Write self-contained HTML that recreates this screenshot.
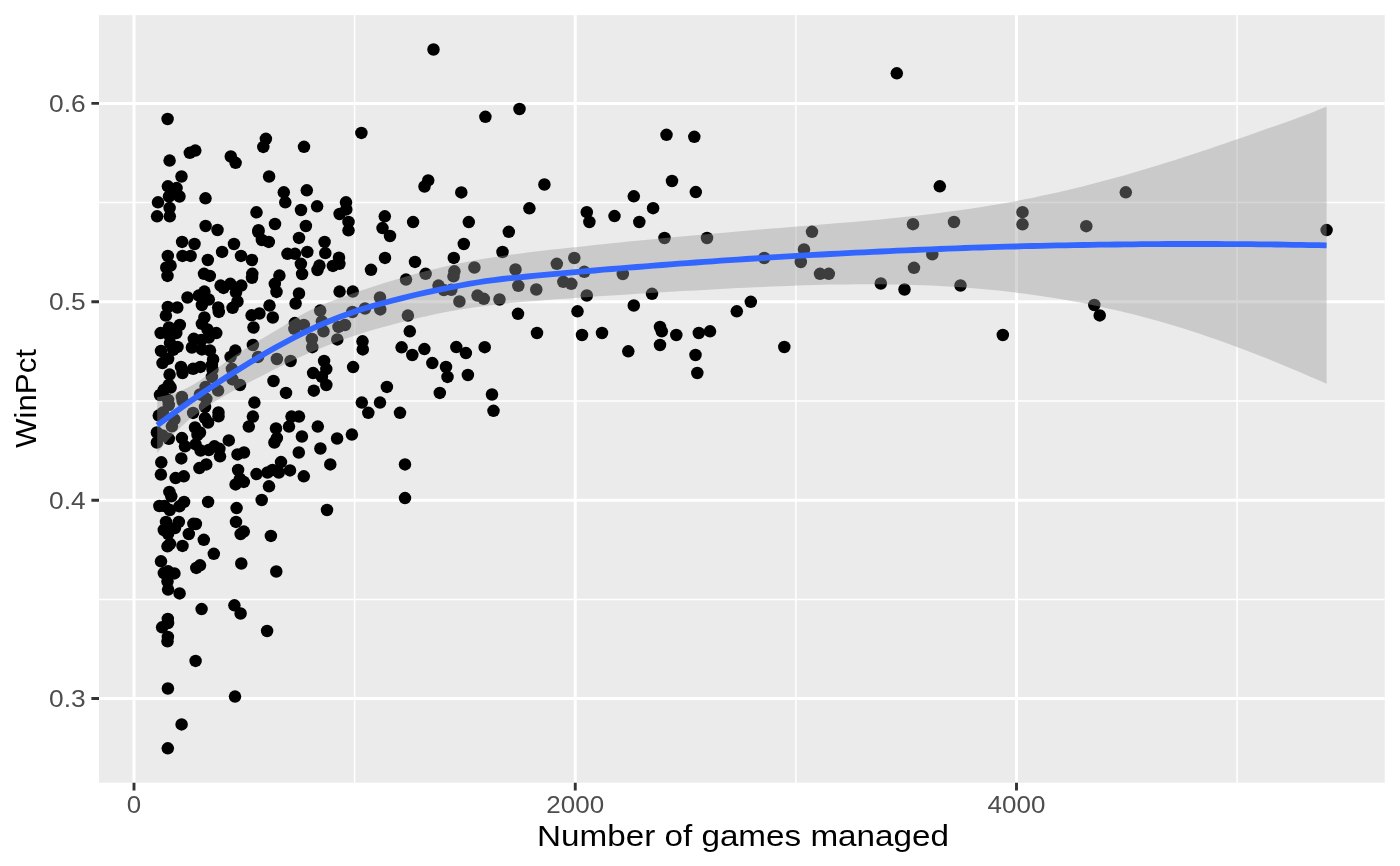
<!DOCTYPE html>
<html><head><meta charset="utf-8"><title>plot</title>
<style>
html,body{margin:0;padding:0;background:#fff;}
svg{display:block;font-family:"Liberation Sans",sans-serif;}
svg{will-change:transform;}
</style></head><body>
<svg width="1400" height="866" viewBox="0 0 1400 866">
<rect x="0" y="0" width="1400" height="866" fill="#ffffff"/>
<rect x="99" y="15.1" width="1285.75" height="767.6" fill="#EBEBEB"/>
<g stroke="#ffffff" stroke-width="1.5" fill="none">
<path d="M354.6 15.1V782.7M795.9 15.1V782.7M1237.1 15.1V782.7"/>
<path d="M99 202.6H1384.75M99 401H1384.75M99 599.4H1384.75"/>
</g>
<g stroke="#ffffff" stroke-width="3" fill="none">
<path d="M134 15.1V782.7M575.25 15.1V782.7M1016.5 15.1V782.7"/>
<path d="M99 103.4H1384.75M99 301.8H1384.75M99 500.2H1384.75M99 698.55H1384.75"/>
</g>
<g fill="#000000"><circle cx="167.6" cy="119" r="6.25"/><circle cx="265.9" cy="138.8" r="6.25"/><circle cx="263.3" cy="146.9" r="6.25"/><circle cx="304" cy="146.8" r="6.25"/><circle cx="195.3" cy="150.6" r="6.25"/><circle cx="189.8" cy="152.8" r="6.25"/><circle cx="230.8" cy="156.5" r="6.25"/><circle cx="235.6" cy="162.8" r="6.25"/><circle cx="169.6" cy="160.6" r="6.25"/><circle cx="181.5" cy="176.5" r="6.25"/><circle cx="269.1" cy="176.5" r="6.25"/><circle cx="167.9" cy="186.3" r="6.25"/><circle cx="176.6" cy="188.1" r="6.25"/><circle cx="169" cy="196.5" r="6.25"/><circle cx="179.5" cy="196.5" r="6.25"/><circle cx="205.5" cy="198.3" r="6.25"/><circle cx="283.8" cy="192.3" r="6.25"/><circle cx="306.8" cy="190.3" r="6.25"/><circle cx="285.3" cy="202.3" r="6.25"/><circle cx="158" cy="202.3" r="6.25"/><circle cx="169.6" cy="208" r="6.25"/><circle cx="256.5" cy="212.3" r="6.25"/><circle cx="301" cy="210" r="6.25"/><circle cx="157.1" cy="216.3" r="6.25"/><circle cx="169.8" cy="216.3" r="6.25"/><circle cx="275" cy="224" r="6.25"/><circle cx="305.9" cy="226" r="6.25"/><circle cx="205.6" cy="226" r="6.25"/><circle cx="217.5" cy="230" r="6.25"/><circle cx="258.5" cy="230.2" r="6.25"/><circle cx="258.3" cy="232" r="6.25"/><circle cx="261.9" cy="240" r="6.25"/><circle cx="268.8" cy="241.9" r="6.25"/><circle cx="299" cy="237.9" r="6.25"/><circle cx="182.1" cy="241.9" r="6.25"/><circle cx="194.5" cy="244" r="6.25"/><circle cx="234" cy="244" r="6.25"/><circle cx="222.1" cy="251.9" r="6.25"/><circle cx="241" cy="255.9" r="6.25"/><circle cx="251.9" cy="260" r="6.25"/><circle cx="167.8" cy="255.9" r="6.25"/><circle cx="182.5" cy="255.9" r="6.25"/><circle cx="190.6" cy="255.9" r="6.25"/><circle cx="207.8" cy="260" r="6.25"/><circle cx="287.5" cy="253.8" r="6.25"/><circle cx="295" cy="253.8" r="6.25"/><circle cx="307.3" cy="251.9" r="6.25"/><circle cx="300.9" cy="263.8" r="6.25"/><circle cx="302.1" cy="274" r="6.25"/><circle cx="170.6" cy="265.6" r="6.25"/><circle cx="166.3" cy="267.5" r="6.25"/><circle cx="167.5" cy="275.9" r="6.25"/><circle cx="204" cy="273.8" r="6.25"/><circle cx="209.8" cy="275.9" r="6.25"/><circle cx="252.3" cy="273.8" r="6.25"/><circle cx="252" cy="277.8" r="6.25"/><circle cx="279.4" cy="275.6" r="6.25"/><circle cx="274.8" cy="283.8" r="6.25"/><circle cx="276.5" cy="291.9" r="6.25"/><circle cx="299" cy="293.5" r="6.25"/><circle cx="295.6" cy="303.5" r="6.25"/><circle cx="269.5" cy="305.6" r="6.25"/><circle cx="220.6" cy="285.6" r="6.25"/><circle cx="223.5" cy="287.9" r="6.25"/><circle cx="230.3" cy="283.8" r="6.25"/><circle cx="241.3" cy="285.6" r="6.25"/><circle cx="236" cy="292.3" r="6.25"/><circle cx="237.5" cy="301.5" r="6.25"/><circle cx="232.6" cy="307.8" r="6.25"/><circle cx="218.2" cy="307.5" r="6.25"/><circle cx="187.5" cy="297.5" r="6.25"/><circle cx="204.4" cy="291.6" r="6.25"/><circle cx="198.8" cy="295.6" r="6.25"/><circle cx="208.8" cy="299.6" r="6.25"/><circle cx="201.9" cy="305" r="6.25"/><circle cx="167.8" cy="306.9" r="6.25"/><circle cx="177.3" cy="307.5" r="6.25"/><circle cx="218.8" cy="311.9" r="6.25"/><circle cx="165.9" cy="315.6" r="6.25"/><circle cx="204.4" cy="317.5" r="6.25"/><circle cx="201.9" cy="323.8" r="6.25"/><circle cx="207.5" cy="329.4" r="6.25"/><circle cx="216.3" cy="333.1" r="6.25"/><circle cx="208.8" cy="337.5" r="6.25"/><circle cx="179.8" cy="325" r="6.25"/><circle cx="169" cy="327.5" r="6.25"/><circle cx="160.6" cy="333.1" r="6.25"/><circle cx="176.3" cy="333.1" r="6.25"/><circle cx="170" cy="336.3" r="6.25"/><circle cx="170" cy="343.1" r="6.25"/><circle cx="177.5" cy="346.9" r="6.25"/><circle cx="161" cy="350.9" r="6.25"/><circle cx="173.2" cy="349.8" r="6.25"/><circle cx="168.1" cy="358.8" r="6.25"/><circle cx="162.5" cy="363.1" r="6.25"/><circle cx="193.8" cy="338.8" r="6.25"/><circle cx="201.3" cy="340" r="6.25"/><circle cx="191.9" cy="347.5" r="6.25"/><circle cx="201.9" cy="349.4" r="6.25"/><circle cx="210" cy="350.6" r="6.25"/><circle cx="213.1" cy="359.4" r="6.25"/><circle cx="211.9" cy="365" r="6.25"/><circle cx="212.5" cy="369.4" r="6.25"/><circle cx="211.9" cy="376.9" r="6.25"/><circle cx="181" cy="366.9" r="6.25"/><circle cx="182.5" cy="373.1" r="6.25"/><circle cx="193.1" cy="368.8" r="6.25"/><circle cx="200.3" cy="366.9" r="6.25"/><circle cx="169.6" cy="374.6" r="6.25"/><circle cx="168.8" cy="385" r="6.25"/><circle cx="170.6" cy="387.5" r="6.25"/><circle cx="163.8" cy="390" r="6.25"/><circle cx="160" cy="395" r="6.25"/><circle cx="168.1" cy="400" r="6.25"/><circle cx="181.9" cy="396.9" r="6.25"/><circle cx="205.6" cy="386.9" r="6.25"/><circle cx="200" cy="394.4" r="6.25"/><circle cx="218.1" cy="390.6" r="6.25"/><circle cx="206.3" cy="398.8" r="6.25"/><circle cx="231.9" cy="368.8" r="6.25"/><circle cx="232.5" cy="379.4" r="6.25"/><circle cx="240" cy="385" r="6.25"/><circle cx="235.3" cy="350.6" r="6.25"/><circle cx="230.6" cy="356.9" r="6.25"/><circle cx="251.6" cy="315.3" r="6.25"/><circle cx="259.4" cy="313.5" r="6.25"/><circle cx="272.8" cy="317.5" r="6.25"/><circle cx="253.5" cy="327.5" r="6.25"/><circle cx="252.9" cy="345" r="6.25"/><circle cx="258.1" cy="356.9" r="6.25"/><circle cx="276.9" cy="359" r="6.25"/><circle cx="290.6" cy="361" r="6.25"/><circle cx="294.8" cy="323.1" r="6.25"/><circle cx="303.8" cy="325" r="6.25"/><circle cx="294.4" cy="328.8" r="6.25"/><circle cx="311.9" cy="339" r="6.25"/><circle cx="312.3" cy="347.2" r="6.25"/><circle cx="273.5" cy="381" r="6.25"/><circle cx="286" cy="392.9" r="6.25"/><circle cx="313.1" cy="373.1" r="6.25"/><circle cx="313.8" cy="390.7" r="6.25"/><circle cx="254.4" cy="402.6" r="6.25"/><circle cx="158.8" cy="415.6" r="6.25"/><circle cx="168.8" cy="405" r="6.25"/><circle cx="162.9" cy="412.6" r="6.25"/><circle cx="193.1" cy="412.9" r="6.25"/><circle cx="205" cy="406.9" r="6.25"/><circle cx="218.5" cy="412.5" r="6.25"/><circle cx="218.5" cy="416.3" r="6.25"/><circle cx="205" cy="418.1" r="6.25"/><circle cx="208.1" cy="422.5" r="6.25"/><circle cx="174.4" cy="419.4" r="6.25"/><circle cx="171.9" cy="426.3" r="6.25"/><circle cx="195" cy="427.5" r="6.25"/><circle cx="200" cy="432.5" r="6.25"/><circle cx="156.9" cy="432.5" r="6.25"/><circle cx="168.8" cy="438.8" r="6.25"/><circle cx="156.9" cy="442.5" r="6.25"/><circle cx="181.9" cy="438.1" r="6.25"/><circle cx="185" cy="446.3" r="6.25"/><circle cx="195.6" cy="444.4" r="6.25"/><circle cx="200.6" cy="450.6" r="6.25"/><circle cx="208.8" cy="450" r="6.25"/><circle cx="214.4" cy="446.3" r="6.25"/><circle cx="219.4" cy="448.8" r="6.25"/><circle cx="220" cy="456.3" r="6.25"/><circle cx="228.8" cy="440.4" r="6.25"/><circle cx="252.9" cy="416.6" r="6.25"/><circle cx="248.8" cy="426.6" r="6.25"/><circle cx="291.5" cy="416.6" r="6.25"/><circle cx="299" cy="416.6" r="6.25"/><circle cx="289" cy="426.6" r="6.25"/><circle cx="276" cy="428.4" r="6.25"/><circle cx="276.9" cy="438.1" r="6.25"/><circle cx="274.4" cy="442.5" r="6.25"/><circle cx="301.9" cy="436.5" r="6.25"/><circle cx="298.8" cy="452.5" r="6.25"/><circle cx="237.5" cy="454.4" r="6.25"/><circle cx="244" cy="452.5" r="6.25"/><circle cx="161.3" cy="462.3" r="6.25"/><circle cx="181.3" cy="458.4" r="6.25"/><circle cx="199.4" cy="468.1" r="6.25"/><circle cx="206.3" cy="464.4" r="6.25"/><circle cx="160.9" cy="474.6" r="6.25"/><circle cx="175.6" cy="478.1" r="6.25"/><circle cx="183.8" cy="476.3" r="6.25"/><circle cx="238.1" cy="470" r="6.25"/><circle cx="240" cy="478.8" r="6.25"/><circle cx="235.6" cy="484.4" r="6.25"/><circle cx="243.8" cy="481.9" r="6.25"/><circle cx="256.5" cy="474.1" r="6.25"/><circle cx="267.5" cy="472.5" r="6.25"/><circle cx="272.5" cy="470" r="6.25"/><circle cx="278.8" cy="472.5" r="6.25"/><circle cx="281" cy="462.1" r="6.25"/><circle cx="290" cy="470.4" r="6.25"/><circle cx="303.8" cy="476.3" r="6.25"/><circle cx="269" cy="486.3" r="6.25"/><circle cx="261.7" cy="500" r="6.25"/><circle cx="169.4" cy="491.9" r="6.25"/><circle cx="171.3" cy="496.3" r="6.25"/><circle cx="184.1" cy="501.9" r="6.25"/><circle cx="208.1" cy="501.9" r="6.25"/><circle cx="159.4" cy="506" r="6.25"/><circle cx="164.4" cy="506" r="6.25"/><circle cx="169.8" cy="510" r="6.25"/><circle cx="179.4" cy="506.3" r="6.25"/><circle cx="236.6" cy="508.1" r="6.25"/><circle cx="236" cy="521.9" r="6.25"/><circle cx="166" cy="521.9" r="6.25"/><circle cx="178.8" cy="521.9" r="6.25"/><circle cx="193.4" cy="523.8" r="6.25"/><circle cx="195.9" cy="524" r="6.25"/><circle cx="163.8" cy="530" r="6.25"/><circle cx="175" cy="528.1" r="6.25"/><circle cx="168.1" cy="533.8" r="6.25"/><circle cx="188.8" cy="534" r="6.25"/><circle cx="203.8" cy="539.8" r="6.25"/><circle cx="243.8" cy="531.6" r="6.25"/><circle cx="240.6" cy="534.1" r="6.25"/><circle cx="270.9" cy="535.9" r="6.25"/><circle cx="170" cy="543.8" r="6.25"/><circle cx="167.5" cy="546.3" r="6.25"/><circle cx="182.5" cy="545.9" r="6.25"/><circle cx="213.8" cy="553.8" r="6.25"/><circle cx="161" cy="561.3" r="6.25"/><circle cx="200" cy="565.3" r="6.25"/><circle cx="196.3" cy="567.9" r="6.25"/><circle cx="241.3" cy="563.5" r="6.25"/><circle cx="276.3" cy="571.5" r="6.25"/><circle cx="163.8" cy="573.1" r="6.25"/><circle cx="168.1" cy="571.3" r="6.25"/><circle cx="174.4" cy="573.4" r="6.25"/><circle cx="167.5" cy="581.3" r="6.25"/><circle cx="168.1" cy="589.6" r="6.25"/><circle cx="179.6" cy="593.4" r="6.25"/><circle cx="234.4" cy="605.3" r="6.25"/><circle cx="240.6" cy="613.5" r="6.25"/><circle cx="201.6" cy="609.1" r="6.25"/><circle cx="167.8" cy="619" r="6.25"/><circle cx="168.1" cy="623.1" r="6.25"/><circle cx="162.1" cy="627.3" r="6.25"/><circle cx="167.9" cy="636.9" r="6.25"/><circle cx="167.5" cy="641.3" r="6.25"/><circle cx="267.1" cy="631" r="6.25"/><circle cx="195.6" cy="660.9" r="6.25"/><circle cx="167.9" cy="688.5" r="6.25"/><circle cx="235" cy="696.6" r="6.25"/><circle cx="181.6" cy="724.4" r="6.25"/><circle cx="167.8" cy="748.3" r="6.25"/><circle cx="361.4" cy="132.9" r="6.25"/><circle cx="485.4" cy="116.8" r="6.25"/><circle cx="428.2" cy="180.4" r="6.25"/><circle cx="424.5" cy="186.5" r="6.25"/><circle cx="461.3" cy="192.4" r="6.25"/><circle cx="317.1" cy="206.3" r="6.25"/><circle cx="346" cy="202.3" r="6.25"/><circle cx="346.3" cy="209.4" r="6.25"/><circle cx="339.6" cy="214" r="6.25"/><circle cx="348.5" cy="221.9" r="6.25"/><circle cx="348.5" cy="230.3" r="6.25"/><circle cx="324.6" cy="241.9" r="6.25"/><circle cx="325.3" cy="253.1" r="6.25"/><circle cx="339" cy="257.7" r="6.25"/><circle cx="339.4" cy="263.8" r="6.25"/><circle cx="332.9" cy="265.9" r="6.25"/><circle cx="319.4" cy="265.6" r="6.25"/><circle cx="317.5" cy="270" r="6.25"/><circle cx="384.8" cy="216.3" r="6.25"/><circle cx="382.5" cy="228.1" r="6.25"/><circle cx="390" cy="236" r="6.25"/><circle cx="413.1" cy="222.1" r="6.25"/><circle cx="468.8" cy="222.1" r="6.25"/><circle cx="463.8" cy="244" r="6.25"/><circle cx="453.8" cy="257.9" r="6.25"/><circle cx="385" cy="257.9" r="6.25"/><circle cx="415" cy="261.9" r="6.25"/><circle cx="371" cy="269.8" r="6.25"/><circle cx="425.6" cy="273.8" r="6.25"/><circle cx="406" cy="279.6" r="6.25"/><circle cx="454.4" cy="271.3" r="6.25"/><circle cx="453.5" cy="276.3" r="6.25"/><circle cx="474.4" cy="267.5" r="6.25"/><circle cx="339.6" cy="291.6" r="6.25"/><circle cx="352.8" cy="291.6" r="6.25"/><circle cx="380" cy="297.5" r="6.25"/><circle cx="438.5" cy="285.6" r="6.25"/><circle cx="443.8" cy="290" r="6.25"/><circle cx="451.3" cy="289.8" r="6.25"/><circle cx="459.4" cy="301.5" r="6.25"/><circle cx="477.5" cy="295.6" r="6.25"/><circle cx="483.8" cy="298.8" r="6.25"/><circle cx="365" cy="308.5" r="6.25"/><circle cx="320.2" cy="310.6" r="6.25"/><circle cx="352.4" cy="312" r="6.25"/><circle cx="321.9" cy="321.3" r="6.25"/><circle cx="323.5" cy="331.3" r="6.25"/><circle cx="337.3" cy="339.4" r="6.25"/><circle cx="338.5" cy="326.9" r="6.25"/><circle cx="345" cy="325" r="6.25"/><circle cx="380.3" cy="309.4" r="6.25"/><circle cx="407.9" cy="315.6" r="6.25"/><circle cx="409.8" cy="331.3" r="6.25"/><circle cx="362.5" cy="341.3" r="6.25"/><circle cx="362.8" cy="349.4" r="6.25"/><circle cx="401.6" cy="347.3" r="6.25"/><circle cx="412.3" cy="355" r="6.25"/><circle cx="424.4" cy="349.1" r="6.25"/><circle cx="432.3" cy="363.1" r="6.25"/><circle cx="446" cy="366.9" r="6.25"/><circle cx="447.5" cy="376.9" r="6.25"/><circle cx="456.3" cy="347.1" r="6.25"/><circle cx="465.9" cy="353.1" r="6.25"/><circle cx="484.7" cy="347.2" r="6.25"/><circle cx="467.9" cy="375" r="6.25"/><circle cx="439.8" cy="392.9" r="6.25"/><circle cx="386.9" cy="386.9" r="6.25"/><circle cx="353.1" cy="367.1" r="6.25"/><circle cx="324.1" cy="361" r="6.25"/><circle cx="326.3" cy="369.1" r="6.25"/><circle cx="321.9" cy="376.9" r="6.25"/><circle cx="326.3" cy="385" r="6.25"/><circle cx="361.8" cy="402.6" r="6.25"/><circle cx="380" cy="402.6" r="6.25"/><circle cx="400" cy="412.8" r="6.25"/><circle cx="368.3" cy="412.8" r="6.25"/><circle cx="317.8" cy="426.6" r="6.25"/><circle cx="337.1" cy="438.5" r="6.25"/><circle cx="351.9" cy="434.6" r="6.25"/><circle cx="320.4" cy="448.5" r="6.25"/><circle cx="330.3" cy="464.4" r="6.25"/><circle cx="405" cy="464.4" r="6.25"/><circle cx="405" cy="498.1" r="6.25"/><circle cx="327" cy="510" r="6.25"/><circle cx="433.5" cy="49.5" r="6.25"/><circle cx="519.5" cy="109" r="6.25"/><circle cx="544.4" cy="184.5" r="6.25"/><circle cx="529.4" cy="208.3" r="6.25"/><circle cx="633.8" cy="196.3" r="6.25"/><circle cx="653.1" cy="208.2" r="6.25"/><circle cx="586.8" cy="212.2" r="6.25"/><circle cx="589.4" cy="222" r="6.25"/><circle cx="614.5" cy="216.1" r="6.25"/><circle cx="639.3" cy="222" r="6.25"/><circle cx="508.8" cy="231.8" r="6.25"/><circle cx="502.5" cy="252" r="6.25"/><circle cx="672" cy="181" r="6.25"/><circle cx="695.8" cy="192.1" r="6.25"/><circle cx="664.5" cy="238" r="6.25"/><circle cx="707" cy="238" r="6.25"/><circle cx="812" cy="231.8" r="6.25"/><circle cx="804" cy="249.5" r="6.25"/><circle cx="800.8" cy="262" r="6.25"/><circle cx="764.3" cy="258" r="6.25"/><circle cx="820" cy="273.8" r="6.25"/><circle cx="828.8" cy="273.8" r="6.25"/><circle cx="515.5" cy="269.5" r="6.25"/><circle cx="556.8" cy="263.8" r="6.25"/><circle cx="574.3" cy="258" r="6.25"/><circle cx="584.3" cy="271.8" r="6.25"/><circle cx="563.3" cy="281.8" r="6.25"/><circle cx="571.3" cy="283.8" r="6.25"/><circle cx="518.3" cy="285.8" r="6.25"/><circle cx="536.3" cy="289.5" r="6.25"/><circle cx="622.8" cy="274" r="6.25"/><circle cx="586.8" cy="295.5" r="6.25"/><circle cx="652" cy="293.8" r="6.25"/><circle cx="499.5" cy="299.5" r="6.25"/><circle cx="518" cy="313.8" r="6.25"/><circle cx="577.5" cy="311.3" r="6.25"/><circle cx="633.8" cy="305.5" r="6.25"/><circle cx="750.8" cy="301.8" r="6.25"/><circle cx="736.8" cy="311.3" r="6.25"/><circle cx="537" cy="333" r="6.25"/><circle cx="582" cy="335" r="6.25"/><circle cx="602" cy="333" r="6.25"/><circle cx="660" cy="327" r="6.25"/><circle cx="661.8" cy="331.3" r="6.25"/><circle cx="676.3" cy="335" r="6.25"/><circle cx="698.8" cy="333" r="6.25"/><circle cx="710" cy="331.3" r="6.25"/><circle cx="628.3" cy="351.3" r="6.25"/><circle cx="660" cy="345" r="6.25"/><circle cx="695.5" cy="355" r="6.25"/><circle cx="697.3" cy="373" r="6.25"/><circle cx="784.3" cy="347" r="6.25"/><circle cx="492" cy="394.5" r="6.25"/><circle cx="493.5" cy="410.8" r="6.25"/><circle cx="896.8" cy="73.3" r="6.25"/><circle cx="666.5" cy="134.8" r="6.25"/><circle cx="694.3" cy="136.8" r="6.25"/><circle cx="939.8" cy="186.3" r="6.25"/><circle cx="913" cy="224.2" r="6.25"/><circle cx="954" cy="222" r="6.25"/><circle cx="1022.5" cy="212.2" r="6.25"/><circle cx="1022.5" cy="224.3" r="6.25"/><circle cx="1086.3" cy="226.2" r="6.25"/><circle cx="1125.8" cy="192.3" r="6.25"/><circle cx="932.3" cy="254.3" r="6.25"/><circle cx="914" cy="267.8" r="6.25"/><circle cx="880.8" cy="283.5" r="6.25"/><circle cx="904.5" cy="289.5" r="6.25"/><circle cx="960.5" cy="285.5" r="6.25"/><circle cx="1094.3" cy="305" r="6.25"/><circle cx="1099.7" cy="315.4" r="6.25"/><circle cx="1002.8" cy="335" r="6.25"/><circle cx="1326.6" cy="230.1" r="6.25"/><circle cx="197.5" cy="435" r="6.25"/><circle cx="182.6" cy="401.1" r="6.25"/><circle cx="162.5" cy="435.5" r="6.25"/></g>
<path d="M157.2 397.3 L165.6 395.6 L174.0 393.4 L182.4 390.3 L190.9 386.1 L199.3 380.9 L207.7 375.1 L216.1 369.1 L224.5 363.1 L232.9 357.1 L241.3 351.4 L249.7 346.1 L258.2 341.1 L266.6 336.1 L275.0 331.1 L283.4 325.9 L291.8 320.5 L300.2 315.4 L308.6 311.0 L317.0 307.0 L325.5 303.5 L333.9 300.3 L342.3 297.2 L350.7 294.2 L359.1 291.3 L367.5 288.5 L375.9 285.7 L384.3 283.0 L392.8 280.4 L401.2 277.9 L409.6 275.5 L418.0 273.2 L426.4 271.0 L434.8 268.9 L443.2 266.9 L451.7 265.0 L460.1 263.2 L468.5 261.6 L476.9 260.1 L485.3 258.6 L493.7 257.3 L502.1 256.0 L510.5 254.8 L519.0 253.7 L527.4 252.6 L535.8 251.6 L544.2 250.6 L552.6 249.6 L561.0 248.7 L569.4 247.8 L577.8 246.9 L586.3 246.0 L594.7 245.1 L603.1 244.2 L611.5 243.3 L619.9 242.5 L628.3 241.6 L636.7 240.8 L645.2 240.0 L653.6 239.2 L662.0 238.3 L670.4 237.5 L678.8 236.7 L687.2 236.0 L695.6 235.2 L704.0 234.4 L712.5 233.7 L720.9 232.9 L729.3 232.2 L737.7 231.4 L746.1 230.7 L754.5 230.0 L762.9 229.3 L771.3 228.6 L779.8 227.9 L788.2 227.2 L796.6 226.6 L805.0 225.9 L813.4 225.2 L821.8 224.5 L830.2 223.8 L838.6 223.1 L847.1 222.4 L855.5 221.7 L863.9 220.9 L872.3 220.2 L880.7 219.4 L889.1 218.6 L897.5 217.7 L906.0 216.8 L914.4 215.9 L922.8 215.0 L931.2 214.0 L939.6 212.9 L948.0 211.8 L956.4 210.7 L964.8 209.5 L973.3 208.3 L981.7 207.0 L990.1 205.6 L998.5 204.2 L1006.9 202.7 L1015.3 201.2 L1023.7 199.5 L1032.1 197.9 L1040.6 196.1 L1049.0 194.3 L1057.4 192.4 L1065.8 190.5 L1074.2 188.5 L1082.6 186.4 L1091.0 184.3 L1099.5 182.1 L1107.9 179.8 L1116.3 177.5 L1124.7 175.2 L1133.1 172.8 L1141.5 170.3 L1149.9 167.8 L1158.3 165.3 L1166.8 162.6 L1175.2 160.0 L1183.6 157.3 L1192.0 154.5 L1200.4 151.7 L1208.8 148.9 L1217.2 146.1 L1225.6 143.2 L1234.1 140.3 L1242.5 137.4 L1250.9 134.5 L1259.3 131.5 L1267.7 128.6 L1276.1 125.7 L1284.5 122.7 L1292.9 119.7 L1301.4 116.6 L1309.8 113.4 L1318.2 110.0 L1326.6 106.5 L1326.6 383.7 L1318.2 380.0 L1309.8 376.4 L1301.4 372.7 L1292.9 369.2 L1284.5 365.7 L1276.1 362.2 L1267.7 358.8 L1259.3 355.5 L1250.9 352.2 L1242.5 349.0 L1234.1 345.9 L1225.6 342.8 L1217.2 339.8 L1208.8 336.9 L1200.4 334.0 L1192.0 331.2 L1183.6 328.6 L1175.2 326.0 L1166.8 323.5 L1158.3 321.0 L1149.9 318.7 L1141.5 316.5 L1133.1 314.3 L1124.7 312.2 L1116.3 310.3 L1107.9 308.4 L1099.5 306.5 L1091.0 304.8 L1082.6 303.1 L1074.2 301.5 L1065.8 300.0 L1057.4 298.6 L1049.0 297.2 L1040.6 296.0 L1032.1 294.8 L1023.7 293.6 L1015.3 292.6 L1006.9 291.6 L998.5 290.6 L990.1 289.8 L981.7 289.0 L973.3 288.3 L964.8 287.6 L956.4 287.0 L948.0 286.5 L939.6 286.0 L931.2 285.6 L922.8 285.2 L914.4 284.9 L906.0 284.7 L897.5 284.5 L889.1 284.4 L880.7 284.3 L872.3 284.2 L863.9 284.2 L855.5 284.3 L847.1 284.4 L838.6 284.5 L830.2 284.6 L821.8 284.8 L813.4 285.1 L805.0 285.3 L796.6 285.6 L788.2 285.9 L779.8 286.2 L771.3 286.6 L762.9 286.9 L754.5 287.3 L746.1 287.7 L737.7 288.1 L729.3 288.6 L720.9 289.0 L712.5 289.4 L704.0 289.9 L695.6 290.4 L687.2 290.8 L678.8 291.3 L670.4 291.8 L662.0 292.3 L653.6 292.8 L645.2 293.3 L636.7 293.8 L628.3 294.4 L619.9 294.9 L611.5 295.4 L603.1 296.0 L594.7 296.6 L586.3 297.2 L577.8 297.8 L569.4 298.4 L561.0 299.0 L552.6 299.6 L544.2 300.3 L535.8 300.9 L527.4 301.6 L519.0 302.3 L510.5 303.1 L502.1 304.0 L493.7 304.9 L485.3 305.9 L476.9 307.0 L468.5 308.2 L460.1 309.5 L451.7 311.0 L443.2 312.6 L434.8 314.3 L426.4 316.2 L418.0 318.1 L409.6 320.2 L401.2 322.3 L392.8 324.5 L384.3 326.7 L375.9 329.1 L367.5 331.6 L359.1 334.2 L350.7 336.9 L342.3 339.8 L333.9 342.9 L325.5 346.2 L317.0 349.7 L308.6 353.3 L300.2 357.1 L291.8 361.0 L283.4 365.0 L275.0 369.1 L266.6 373.4 L258.2 377.7 L249.7 382.1 L241.3 386.6 L232.9 391.1 L224.5 395.8 L216.1 400.7 L207.7 406.0 L199.3 411.9 L190.9 418.3 L182.4 425.5 L174.0 433.6 L165.6 442.7 L157.2 453.0 Z" fill="#999999" fill-opacity="0.4"/>
<path d="M157.3 425.3 L165.7 419.0 L174.1 412.8 L182.5 406.8 L190.9 400.8 L199.4 395.0 L207.8 389.4 L216.2 383.8 L224.6 378.3 L233.0 373.0 L241.4 367.7 L249.8 362.6 L258.2 357.5 L266.7 352.6 L275.1 347.8 L283.5 343.2 L291.9 338.7 L300.3 334.4 L308.7 330.3 L317.1 326.4 L325.5 322.7 L334.0 319.2 L342.4 315.9 L350.8 312.9 L359.2 310.1 L367.6 307.5 L376.0 305.0 L384.4 302.7 L392.8 300.5 L401.3 298.4 L409.7 296.3 L418.1 294.3 L426.5 292.4 L434.9 290.6 L443.3 288.8 L451.7 287.1 L460.1 285.5 L468.6 283.9 L477.0 282.5 L485.4 281.2 L493.8 280.1 L502.2 279.0 L510.6 278.1 L519.0 277.3 L527.4 276.5 L535.9 275.7 L544.3 274.9 L552.7 274.1 L561.1 273.4 L569.5 272.6 L577.9 271.9 L586.3 271.2 L594.7 270.5 L603.1 269.7 L611.6 269.0 L620.0 268.3 L628.4 267.7 L636.8 267.0 L645.2 266.3 L653.6 265.7 L662.0 265.0 L670.4 264.4 L678.9 263.7 L687.3 263.1 L695.7 262.5 L704.1 261.9 L712.5 261.3 L720.9 260.7 L729.3 260.2 L737.7 259.6 L746.2 259.0 L754.6 258.5 L763.0 258.0 L771.4 257.4 L779.8 256.9 L788.2 256.4 L796.6 255.9 L805.0 255.4 L813.5 254.9 L821.9 254.5 L830.3 254.0 L838.7 253.6 L847.1 253.1 L855.5 252.7 L863.9 252.3 L872.3 251.9 L880.8 251.5 L889.2 251.1 L897.6 250.7 L906.0 250.3 L914.4 250.0 L922.8 249.6 L931.2 249.3 L939.6 249.0 L948.0 248.6 L956.5 248.3 L964.9 248.0 L973.3 247.7 L981.7 247.5 L990.1 247.2 L998.5 246.9 L1006.9 246.7 L1015.3 246.5 L1023.8 246.2 L1032.2 246.0 L1040.6 245.8 L1049.0 245.6 L1057.4 245.4 L1065.8 245.3 L1074.2 245.1 L1082.6 245.0 L1091.1 244.8 L1099.5 244.7 L1107.9 244.6 L1116.3 244.5 L1124.7 244.4 L1133.1 244.3 L1141.5 244.2 L1149.9 244.1 L1158.4 244.1 L1166.8 244.0 L1175.2 244.0 L1183.6 244.0 L1192.0 244.0 L1200.4 244.0 L1208.8 244.0 L1217.2 244.0 L1225.7 244.1 L1234.1 244.1 L1242.5 244.2 L1250.9 244.2 L1259.3 244.3 L1267.7 244.4 L1276.1 244.5 L1284.5 244.6 L1293.0 244.8 L1301.4 244.9 L1309.8 245.1 L1318.2 245.2 L1326.6 245.4" fill="none" stroke="#3366FF" stroke-width="5.8" stroke-linejoin="round" stroke-linecap="butt"/>
<g stroke="#333333" stroke-width="2.9" fill="none">
<path d="M91.4 103.4H99M91.4 301.8H99M91.4 500.2H99M91.4 698.55H99"/>
<path d="M134 782.7V790.4M575.25 782.7V790.4M1016.5 782.7V790.4"/>
</g>
<g class="t" fill="#4D4D4D" font-size="24.1px">
<text x="85.6" y="112" text-anchor="end" textLength="36.6" lengthAdjust="spacingAndGlyphs">0.6</text>
<text x="85.6" y="310.4" text-anchor="end" textLength="36.6" lengthAdjust="spacingAndGlyphs">0.5</text>
<text x="85.6" y="508.8" text-anchor="end" textLength="36.6" lengthAdjust="spacingAndGlyphs">0.4</text>
<text x="85.6" y="707.15" text-anchor="end" textLength="36.6" lengthAdjust="spacingAndGlyphs">0.3</text>
<text x="134" y="813.1" text-anchor="middle" textLength="14.4" lengthAdjust="spacingAndGlyphs">0</text>
<text x="575.25" y="813.1" text-anchor="middle" textLength="57.8" lengthAdjust="spacingAndGlyphs">2000</text>
<text x="1016.5" y="813.1" text-anchor="middle" textLength="57.8" lengthAdjust="spacingAndGlyphs">4000</text>
</g>
<text x="743" y="846" text-anchor="middle" font-size="29.2px" fill="#000000" textLength="412" lengthAdjust="spacingAndGlyphs">Number of games managed</text>
<text transform="translate(36.1 398.5) rotate(-90)" text-anchor="middle" font-size="29.2px" fill="#000000" textLength="99" lengthAdjust="spacingAndGlyphs">WinPct</text>
</svg>
</body></html>
